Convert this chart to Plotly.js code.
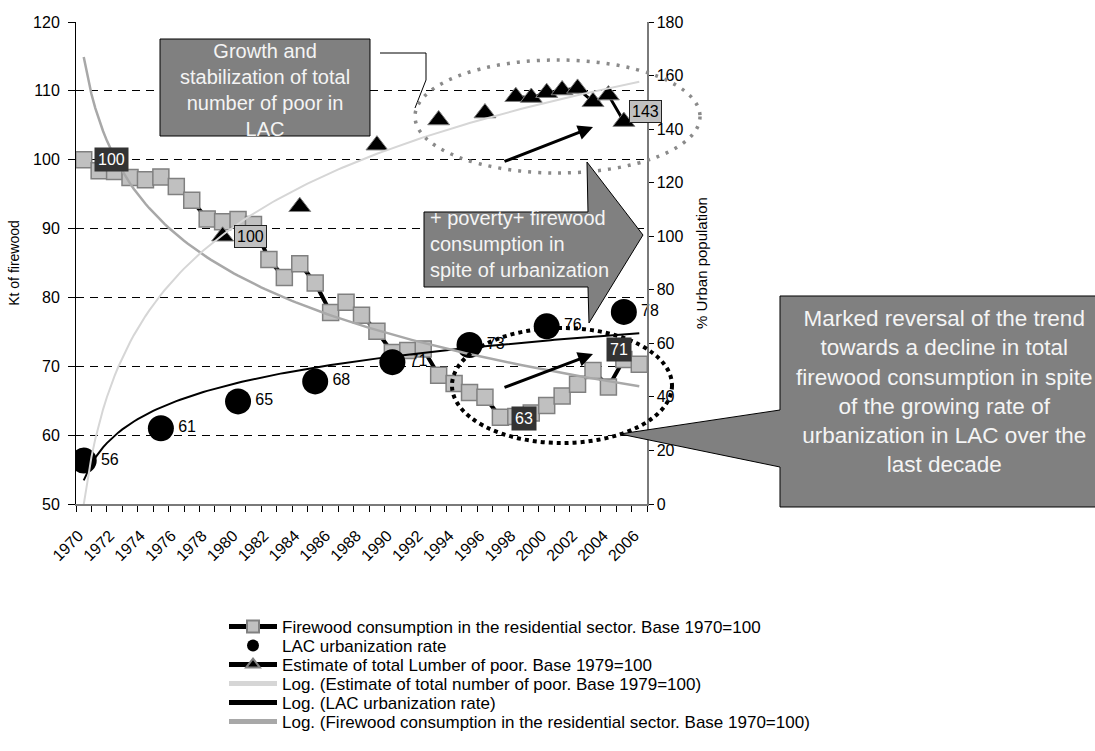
<!DOCTYPE html>
<html><head><meta charset="utf-8">
<script src="https://cdn.plot.ly/plotly-3.0.1.min.js"></script>
<style>html,body{margin:0;padding:0;background:#fff}#chart{width:1095px;height:751px}</style>
</head><body><div id="chart"></div>
<script>
// ---------------- data ----------------
const years = [1970,1971,1972,1973,1974,1975,1976,1977,1978,1979,1980,1981,1982,1983,1984,1985,1986,1987,1988,1989,1990,1991,1992,1993,1994,1995,1996,1997,1998,1999,2000,2001,2002,2003,2004,2005,2006];
const firewood = [100.0,98.4,98.3,97.4,97.1,97.5,96.1,94.1,91.4,91.0,91.3,90.6,85.5,82.9,84.9,82.1,77.8,79.3,77.4,75.1,72.0,72.3,72.5,68.7,67.5,66.2,65.5,62.6,62.7,63.2,64.3,65.7,67.4,69.4,67.0,71.0,70.3];
const urbanYears = [1970,1975,1980,1985,1990,1995,2000,2005];
const urbanRate = [56.3,61.0,64.9,67.8,70.6,73.1,75.8,77.9];
const poorYears = [1979,1984,1989,1993,1996,1998,1999,2000,2001,2002,2003,2004,2005];
const poorIndex = [100,111,134,143.4,146,152.1,151.8,153.6,154.6,155.2,150.2,152.7,142.8];
const tickYears = [1970,1972,1974,1976,1978,1980,1982,1984,1986,1988,1990,1992,1994,1996,1998,2000,2002,2004,2006];
const names = [
  'Firewood consumption in the residential sector. Base 1970=100',
  'LAC urbanization rate',
  'Estimate of total Lumber of poor. Base 1979=100',
  'Log. (Estimate of total number of poor. Base 1979=100)',
  'Log. (LAC urbanization rate)',
  'Log. (Firewood consumption in the residential sector. Base 1970=100)'
];

// ---------------- helpers ----------------
const FONT = 'Arial, "Liberation Sans", sans-serif';
const PL = 76, PR = 647, PT = 22, PB = 504, W = 1095, H = 751;
const px = v => (v - PL) / (PR - PL);
const py = v => (PB - v) / (PB - PT);
const poorFull = years.map(y => { const i = poorYears.indexOf(y); return i < 0 ? null : poorIndex[i]; });

// Excel-style logarithmic trendline (x = category index 1..37)
function logFit(xYears, ys) {
  const lx = xYears.map(y => Math.log(y - years[0] + 1));
  const n = ys.length;
  const mx = lx.reduce((s, v) => s + v, 0) / n;
  const my = ys.reduce((s, v) => s + v, 0) / n;
  let sxy = 0, sxx = 0;
  for (let i = 0; i < n; i++) { sxy += (lx[i] - mx) * (ys[i] - my); sxx += (lx[i] - mx) ** 2; }
  const b = sxy / sxx, a = my - b * mx;
  const xs = [], out = [];
  const tMax = years.length;
  for (let t = 1; t <= tMax + 1e-9; t += 0.25) { xs.push(years[0] - 1 + t); out.push(a + b * Math.log(t)); }
  return {x: xs, y: out};
}
const fwTrend = logFit(years, firewood);
const urTrend = logFit(urbanYears, urbanRate);
const poTrend = logFit(poorYears, poorIndex);

// ---------------- traces ----------------
const traces = [
  {x: years, y: firewood, type: 'scatter', mode: 'lines+markers', name: names[0], legend: 'legend',
   line: {color: '#000', width: 4},
   marker: {symbol: 'square', size: 16, color: '#c0c0c0', line: {color: '#808080', width: 1.5}}},
  {x: urbanYears, y: urbanRate, type: 'scatter', mode: 'markers', name: names[1], legend: 'legend2',
   marker: {symbol: 'circle', size: 26, color: '#000'}},
  {x: urbanYears, y: urbanRate, type: 'scatter', mode: 'markers+text', showlegend: false, cliponaxis: false,
   marker: {size: 26, color: 'rgba(0,0,0,0)'},
   text: urbanRate.map(v => String(Math.round(v))), textposition: 'middle right',
   textfont: {size: 16, color: '#000', family: FONT}},
  {x: urTrend.x, y: urTrend.y, type: 'scatter', mode: 'lines', name: names[4], legend: 'legend5',
   line: {color: '#000', width: 2}},
  {x: fwTrend.x, y: fwTrend.y, type: 'scatter', mode: 'lines', name: names[5], legend: 'legend6',
   line: {color: '#a8a8a8', width: 2.5}},
  {x: years, y: poorFull, yaxis: 'y2', type: 'scatter', mode: 'lines+markers', name: names[2], legend: 'legend3',
   connectgaps: false, line: {color: '#000', width: 3},
   marker: {symbol: 'triangle-up', size: 19, color: '#000', line: {color: '#808080', width: 1}}},
  {x: poTrend.x, y: poTrend.y, yaxis: 'y2', type: 'scatter', mode: 'lines', name: names[3], legend: 'legend4',
   line: {color: '#d6d6d6', width: 2}}
];

// ---------------- legends ----------------
const legendRows = [627, 646, 665, 684, 703, 722];
const legendX = 224;
const legendKeys = ['legend','legend2','legend3','legend4','legend5','legend6'];
const legends = {};
legendKeys.forEach((k, i) => {
  legends[k] = {x: px(legendX), y: py(legendRows[i]), xanchor: 'left', yanchor: 'middle',
    bgcolor: 'rgba(0,0,0,0)', borderwidth: 0, itemsizing: 'constant', itemwidth: 48,
    font: {family: FONT, size: 17, color: '#000'}};
});

// ---------------- shapes ----------------
const P = (x, y) => px(x).toFixed(5) + ',' + py(y).toFixed(5);
const shapes = [
  {type: 'rect', xref: 'paper', yref: 'paper', x0: px(160), x1: px(370), y0: py(136), y1: py(39),
   fillcolor: '#808080', line: {color: '#000', width: 1}},
  {type: 'path', xref: 'paper', yref: 'paper', path: 'M' + P(380, 53) + ' L' + P(426, 53) + ' L' + P(426, 80) + ' L' + P(415, 108),
   line: {color: '#000', width: 1}},
  {type: 'circle', xref: 'paper', yref: 'paper', x0: px(415), x1: px(700), y0: py(173), y1: py(60),
   line: {color: '#8a8a8a', width: 3.5, dash: '3px,7px'}},
  {type: 'path', xref: 'paper', yref: 'paper',
   path: 'M' + P(424, 212) + ' L' + P(588, 212) + ' L' + P(587, 162) + ' L' + P(643, 235) + ' L' + P(589, 323) + ' L' + P(588, 287) + ' L' + P(424, 287) + ' Z',
   fillcolor: '#808080', line: {color: '#000', width: 1}},
  {type: 'circle', xref: 'paper', yref: 'paper', x0: px(452), x1: px(672), y0: py(443), y1: py(328),
   line: {color: '#000', width: 4, dash: '4px,4px'}},
  {type: 'path', xref: 'paper', yref: 'paper',
   path: 'M' + P(780, 296) + ' L' + P(1110, 296) + ' L' + P(1110, 507) + ' L' + P(780, 507) + ' L' + P(780, 467) + ' L' + P(620, 434) + ' L' + P(780, 410) + ' Z',
   fillcolor: '#808080', line: {color: '#000', width: 1}}
];

// ---------------- annotations ----------------
const lightTxt = '#f4f4f4';
const fwIdx = y => years.indexOf(y);
const poIdx = y => poorYears.indexOf(y);
const annotations = [
  {xref: 'paper', yref: 'paper', x: px(265), y: py(90), xanchor: 'center', yanchor: 'middle', showarrow: false,
   text: 'Growth and<br>stabilization of total<br>number of poor in<br>LAC', font: {family: FONT, size: 20, color: lightTxt}},
  {xref: 'paper', yref: 'paper', x: px(428), y: py(244), xanchor: 'left', yanchor: 'middle', align: 'left', showarrow: false,
   text: '+ poverty+ firewood<br>consumption in<br>spite of urbanization', font: {family: FONT, size: 20, color: lightTxt}},
  {xref: 'paper', yref: 'paper', x: px(944), y: py(391), xanchor: 'center', yanchor: 'middle', showarrow: false,
   text: 'Marked reversal of the trend<br>towards a decline in total<br>firewood consumption in spite<br>of the growing rate of<br>urbanization in LAC over the<br>last decade',
   font: {family: FONT, size: 22.5, color: lightTxt}},
  {xref: 'paper', yref: 'paper', x: px(593), y: py(127), ax: -90, ay: 35, text: '', showarrow: true,
   arrowhead: 2, arrowsize: 1, arrowwidth: 3, arrowcolor: '#000'},
  {xref: 'paper', yref: 'paper', x: px(593), y: py(354), ax: -90, ay: 34, text: '', showarrow: true,
   arrowhead: 2, arrowsize: 1, arrowwidth: 3, arrowcolor: '#000'},
  // data labels (dark boxes: firewood)
  {xref: 'x', yref: 'y', x: 1970, y: firewood[fwIdx(1970)], xshift: 28, showarrow: false,
   text: String(Math.round(firewood[fwIdx(1970)])), bgcolor: '#333333', borderpad: 3,
   font: {family: FONT, size: 16, color: '#fff'}},
  {xref: 'x', yref: 'y', x: 1999, y: firewood[fwIdx(1999)], xshift: -7, yshift: -5, showarrow: false,
   text: String(Math.round(firewood[fwIdx(1999)])), bgcolor: '#333333', borderpad: 3,
   font: {family: FONT, size: 16, color: '#fff'}},
  {xref: 'x', yref: 'y', x: 2005, y: firewood[fwIdx(2005)], xshift: -5, yshift: 10, showarrow: false,
   text: String(Math.round(firewood[fwIdx(2005)])), bgcolor: '#333333', borderpad: 3,
   font: {family: FONT, size: 16, color: '#fff'}},
  // data labels (light boxes: poor estimate)
  {xref: 'x', yref: 'y2', x: 1979, y: poorIndex[poIdx(1979)], xshift: 28, showarrow: false,
   text: String(Math.round(poorIndex[poIdx(1979)])), bgcolor: '#c0c0c0', bordercolor: '#222', borderwidth: 1, borderpad: 2,
   font: {family: FONT, size: 16, color: '#000'}},
  {xref: 'x', yref: 'y2', x: 2005, y: poorIndex[poIdx(2005)], xshift: 22, yshift: 10, showarrow: false,
   text: String(Math.round(poorIndex[poIdx(2005)])), bgcolor: '#c0c0c0', bordercolor: '#222', borderwidth: 1, borderpad: 2,
   font: {family: FONT, size: 16, color: '#000'}}
];

// ---------------- layout ----------------
const layout = Object.assign({
  width: W, height: H,
  margin: {l: PL, r: W - PR, t: PT, b: H - PB, pad: 0, autoexpand: false},
  paper_bgcolor: '#fff', plot_bgcolor: '#fff',
  font: {family: FONT, size: 16, color: '#000'},
  showlegend: true, hovermode: false,
  xaxis: {range: [1969.5, 2006.5], tickmode: 'array', tickvals: tickYears, ticktext: tickYears.map(String),
    tickangle: -45, ticks: '', showgrid: false, zeroline: false, showline: true, linecolor: '#7a7a7a', linewidth: 2,
    ticklabelstandoff: 14, ticklabelshift: -5,
    tickfont: {size: 16, family: FONT, color: '#000'},
    minor: {tick0: 1969.5, dtick: 1, ticks: 'outside', ticklen: 6, tickcolor: '#000', tickwidth: 1, showgrid: false}},
  yaxis: {range: [50, 120], tick0: 50, dtick: 10, ticks: 'outside', ticklen: 7, tickcolor: '#000',
    showline: true, linecolor: '#000', linewidth: 1, showgrid: true, gridcolor: '#000', gridwidth: 1, griddash: '8px,6px',
    zeroline: false, ticklabelstandoff: 5, tickfont: {size: 16, family: FONT, color: '#000'},
    title: {text: 'Kt of firewood', font: {size: 14, family: FONT, color: '#000'}, standoff: 10}},
  yaxis2: {overlaying: 'y', side: 'right', range: [0, 180], tick0: 0, dtick: 20, ticks: 'outside', ticklen: 5, tickcolor: '#000',
    showline: true, linecolor: '#7a7a7a', linewidth: 1.5, showgrid: false, zeroline: false,
    tickfont: {size: 16, family: FONT, color: '#000'},
    title: {text: '% Urban population', font: {size: 15, family: FONT, color: '#000'}, standoff: 14}},
  shapes: shapes,
  annotations: annotations
}, legends);

Plotly.newPlot('chart', traces, layout, {displayModeBar: false, staticPlot: true});
</script>
</body></html>
